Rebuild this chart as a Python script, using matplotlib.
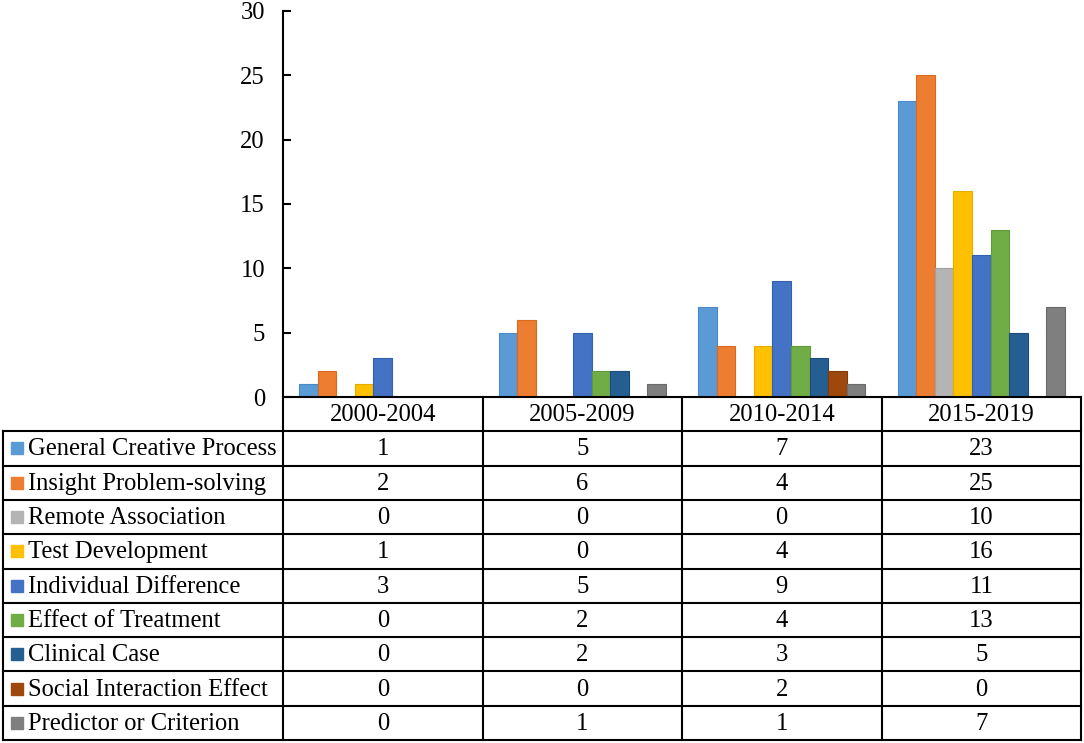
import numpy as np
import matplotlib.pyplot as plt

plt.rcParams['font.family'] = ['Liberation Serif', 'DejaVu Serif']

# ---- data ----
periods = ['2000-2004', '2005-2009', '2010-2014', '2015-2019']
series = ['General Creative Process', 'Insight Problem-solving', 'Remote Association',
          'Test Development', 'Individual Difference', 'Effect of Treatment',
          'Clinical Case', 'Social Interaction Effect', 'Predictor or Criterion']
general_creative = [1, 5, 7, 23]
insight = [2, 6, 4, 25]
remote_assoc = [0, 0, 0, 10]
test_dev = [1, 0, 4, 16]
indiv_diff = [3, 5, 9, 11]
treatment = [0, 2, 4, 13]
clinical = [0, 2, 3, 5]
social = [0, 0, 2, 0]
predictor = [0, 1, 1, 7]
values = [general_creative, insight, remote_assoc, test_dev, indiv_diff,
          treatment, clinical, social, predictor]
colors = ['#5B9BD5', '#ED7D31', '#B4B4B4', '#FFC000', '#4472C4',
          '#70AD47', '#255E91', '#9E480E', '#7F7F7F']
edges = ['#4A8AC8', '#D96A20', '#A0A0A0', '#E6AC00', '#3360B0',
         '#5F9A38', '#1B4C7A', '#833A08', '#6A6A6A']

W, H = 1084, 743
fig = plt.figure(figsize=(W / 100, H / 100), dpi=100)

# pixel layout
ax_l, ax_r, ax_top, ax_bot = 283, 1081, 11, 397
tab_l = 3
row_h = 34.3
fs = 17.7

ax = fig.add_axes([ax_l / W, 1 - ax_bot / H, (ax_r - ax_l) / W, (ax_bot - ax_top) / H])
n = len(series)
bw = 0.093
x = np.arange(len(periods))
for i, (vals, c, ec) in enumerate(zip(values, colors, edges)):
    ax.bar(x + (i - (n - 1) / 2) * bw, vals, width=bw, color=c, edgecolor=ec, linewidth=0.8)

ax.set_xlim(-0.5, len(periods) - 0.5)
ax.set_ylim(0, 30)
ax.set_yticks(range(0, 31, 5))
ax.set_xticks([])
for s in ['top', 'right', 'bottom']:
    ax.spines[s].set_visible(False)
ax.spines['left'].set_linewidth(1.5)
ax.tick_params(axis='y', direction='in', length=6, width=1.5, pad=13, labelsize=fs)

# ---- data table drawn underneath ----
tab = fig.add_axes([0, 0, 1, 1])
tab.set_xlim(0, W)
tab.set_ylim(H, 0)
tab.axis('off')

col_w = (ax_r - ax_l) / len(periods)
col_x = [ax_l + k * col_w for k in range(len(periods) + 1)]
hdr_top = ax_bot
row_top = hdr_top + row_h
tab_bot = row_top + n * row_h
lw = 1.5

# horizontal lines
tab.plot([ax_l, ax_r], [hdr_top, hdr_top], color='black', lw=lw)
for k in range(n + 1):
    y = row_top + k * row_h
    tab.plot([tab_l, ax_r], [y, y], color='black', lw=lw)
# vertical lines
tab.plot([tab_l, tab_l], [row_top, tab_bot], color='black', lw=lw)
for cx in col_x:
    tab.plot([cx, cx], [hdr_top, tab_bot], color='black', lw=lw)

# header
for k, p in enumerate(periods):
    tab.text((col_x[k] + col_x[k + 1]) / 2, hdr_top + row_h / 2 + 1, p,
             ha='center', va='center', fontsize=fs)

# rows
for i, (name, vals, c) in enumerate(zip(series, values, colors)):
    yc = row_top + (i + 0.5) * row_h
    tab.add_patch(plt.Rectangle((11, yc - 6), 12, 12, color=c))
    tab.text(28, yc + 1, name, ha='left', va='center', fontsize=fs)
    for k, v in enumerate(vals):
        tab.text((col_x[k] + col_x[k + 1]) / 2, yc + 1, str(v),
                 ha='center', va='center', fontsize=fs)

fig.savefig('out.png', dpi=100)
